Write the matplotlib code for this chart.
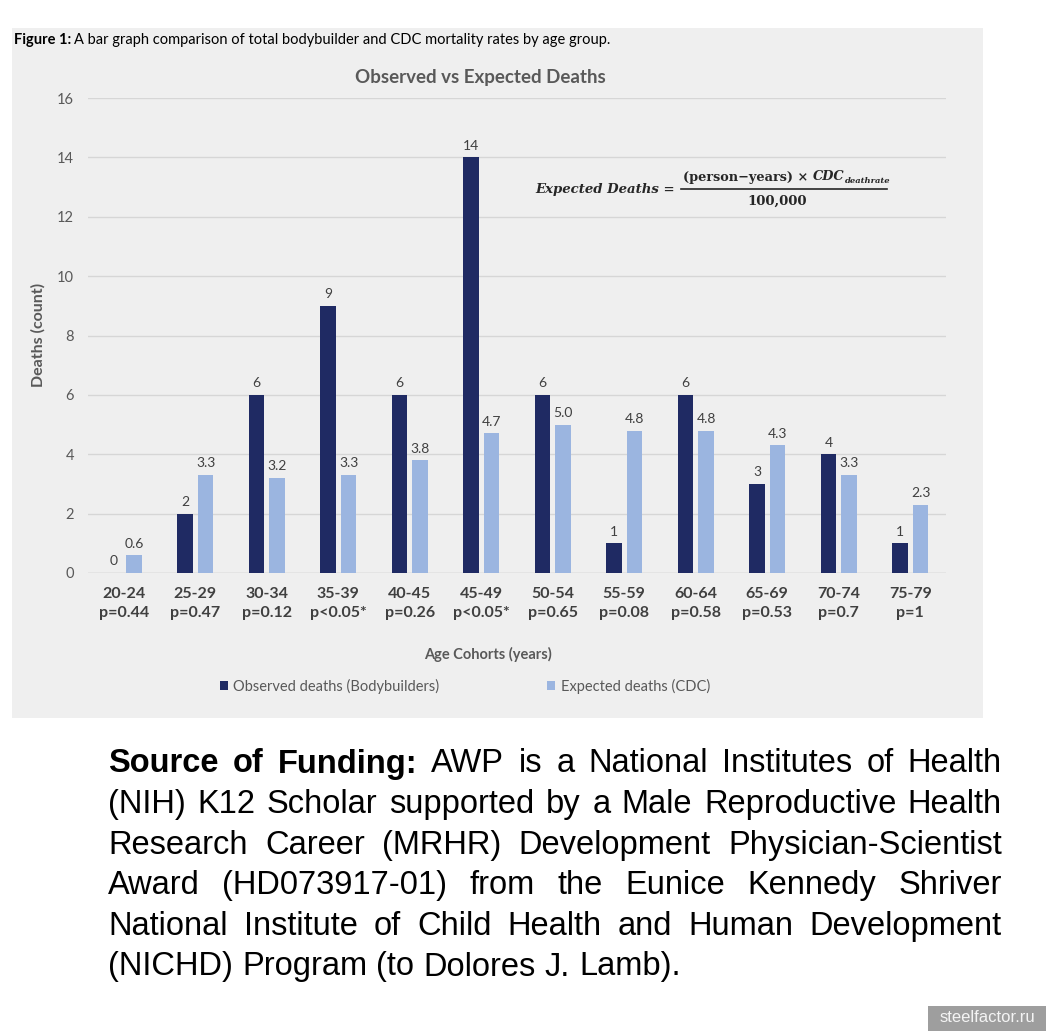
import matplotlib
matplotlib.use('Agg')
import matplotlib.pyplot as plt
from matplotlib.patches import Rectangle, Patch
from matplotlib.lines import Line2D

W, H = 1046, 1031

# data
cohorts = ['20-24', '25-29', '30-34', '35-39', '40-45', '45-49',
           '50-54', '55-59', '60-64', '65-69', '70-74', '75-79']
pvalues = ['p=0.44', 'p=0.47', 'p=0.12', 'p<0.05*', 'p=0.26', 'p<0.05*',
           'p=0.65', 'p=0.08', 'p=0.58', 'p=0.53', 'p=0.7', 'p=1']
observed = [0, 2, 6, 9, 6, 14, 6, 1, 6, 3, 4, 1]
expected = [0.6, 3.3, 3.2, 3.3, 3.8, 4.7, 5.0, 4.8, 4.8, 4.3, 3.3, 2.3]
yticks = [0, 2, 4, 6, 8, 10, 12, 14, 16]

funding = [
  [('Source', 1), ('of', 1), ('Funding:', 1), ('AWP', 0), ('is', 0), ('a', 0),
   ('National', 0), ('Institutes', 0), ('of', 0), ('Health', 0)],
  [(w, 0) for w in '(NIH) K12 Scholar supported by a Male Reproductive Health'.split()],
  [(w, 0) for w in 'Research Career (MRHR) Development Physician-Scientist'.split()],
  [(w, 0) for w in 'Award (HD073917-01) from the Eunice Kennedy Shriver'.split()],
  [(w, 0) for w in 'National Institute of Child Health and Human Development'.split()],
  [(w, 0) for w in '(NICHD) Program (to Dolores J. Lamb).'.split()],
]

DARK = '#1f2a63'
LIGHT = '#9bb5e0'
GREY = '#595959'
FONT = 'Lato'


def fx(x):
  return x / W


def fy(y):
  return 1 - y / H


fig = plt.figure(figsize=(W / 100, H / 100), dpi=100)
fig.patch.set_facecolor('white')

# grey panel behind the chart
fig.patches.append(Rectangle((fx(12), fy(718)), fx(983) - fx(12), fy(28) - fy(718),
                             transform=fig.transFigure, facecolor='#efefef',
                             edgecolor='none', zorder=-5))

ax = fig.add_axes([fx(88), fy(573), fx(946) - fx(88), fy(98) - fy(573)])
ax.set_facecolor('none')
ax.set_zorder(2)

x = list(range(len(cohorts)))
bw = 0.22
off = 0.145
b1 = ax.bar([i - off for i in x], observed, bw, color=DARK, zorder=3)
b2 = ax.bar([i + off for i in x], expected, bw, color=LIGHT, zorder=3)

for rect, v in zip(b1, observed):
  ax.annotate('%d' % v, (rect.get_x() + rect.get_width() / 2, v), xytext=(0, 4),
              textcoords='offset points', ha='center', va='bottom',
              fontsize=10, color='#404040', family=FONT)
for rect, v in zip(b2, expected):
  ax.annotate('%.1f' % v, (rect.get_x() + rect.get_width() / 2, v), xytext=(0, 4),
              textcoords='offset points', ha='center', va='bottom',
              fontsize=10, color='#404040', family=FONT)

ax.set_xlim(-0.5, len(cohorts) - 0.5)
ax.set_ylim(0, 16)
ax.set_yticks(yticks)
ax.set_yticklabels([str(t) for t in yticks], family=FONT, fontsize=10.5, color=GREY)
ax.set_xticks(x)
ax.set_xticklabels(['%s\n%s' % (c, p) for c, p in zip(cohorts, pvalues)],
                   family=FONT, fontsize=11.5, fontweight='bold', color='#404040',
                   linespacing=1.5)
ax.tick_params(axis='both', length=0)
ax.tick_params(axis='y', pad=10)
ax.tick_params(axis='x', pad=10)
ax.grid(axis='y', color='#d6d6d6', linewidth=1, zorder=0)
for s in ax.spines.values():
  s.set_visible(False)
ax.axhline(0, color='#cfcfcf', linewidth=1, zorder=2)

fig.text(fx(38), fy(335), 'Deaths (count)', rotation=90, ha='center', va='center',
         family=FONT, fontsize=11.5, fontweight='bold', color=GREY)
fig.text(fx(488), fy(654), 'Age Cohorts (years)', ha='center', va='center',
         family=FONT, fontsize=10.5, fontweight='bold', color=GREY)
fig.text(fx(480), fy(77), 'Observed vs Expected Deaths', ha='center', va='center',
         family=FONT, fontsize=13.5, fontweight='bold', color=GREY)

# figure caption
renderer = fig.canvas.get_renderer()
t = fig.text(fx(14), fy(40), 'Figure 1:', ha='left', va='center', family=FONT,
             fontsize=10.5, fontweight='bold', color='black')
wpx = t.get_window_extent(renderer).width
fig.text(fx(14 + wpx + 3), fy(40), 'A bar graph comparison of total bodybuilder and CDC mortality rates by age group.',
         ha='left', va='center', family=FONT, fontsize=10.5, color='black')

# legend
handles = [Patch(facecolor=DARK), Patch(facecolor=LIGHT)]
fig.legend(handles, ['Observed deaths (Bodybuilders)', 'Expected deaths (CDC)'],
           loc='center', bbox_to_anchor=(fx(465), fy(686)), ncol=2, frameon=False,
           prop={'family': FONT, 'size': 10.5}, labelcolor=GREY,
           handlelength=0.55, handleheight=0.55, handletextpad=0.4, columnspacing=7.4)

# equation
SERIF = 'DejaVu Serif'
EQC = '#262626'
fig.text(fx(675), fy(189), 'Expected Deaths =', ha='right', va='center',
         family=SERIF, fontsize=9.5, fontweight='bold', style='italic', color=EQC)
fig.add_artist(Line2D([fx(681), fx(887)], [fy(189), fy(189)], color=EQC, linewidth=1.2,
                      transform=fig.transFigure))
n1 = fig.text(fx(683), fy(177), '(person\u2212years) \u00d7 ', ha='left', va='center',
              family=SERIF, fontsize=9.3, fontweight='bold', color=EQC)
w1 = n1.get_window_extent(renderer).width
n2 = fig.text(fx(683 + w1), fy(177), 'CDC', ha='left', va='center',
              family=SERIF, fontsize=9.3, fontweight='bold', style='italic', color=EQC)
w2 = n2.get_window_extent(renderer).width
fig.text(fx(683 + w1 + w2 + 1), fy(181), 'deathrate', ha='left', va='center',
         family=SERIF, fontsize=6.0, fontweight='bold', style='italic', color=EQC)
fig.text(fx(777), fy(201), '100,000', ha='center', va='center',
         family=SERIF, fontsize=9.5, fontweight='bold', color=EQC)

# funding paragraph, justified
left, right = 108, 1002
FS = 23.5
sp = fig.text(0, 0, 'a a', family='Liberation Sans', fontsize=FS)
ref = fig.text(0, 0, 'aa', family='Liberation Sans', fontsize=FS)
space_w = sp.get_window_extent(renderer).width - ref.get_window_extent(renderer).width
sp.remove()
ref.remove()
for li, words in enumerate(funding):
  ypos = fy(764 + li * 40.6)
  arts = []
  for w, b in words:
    a = fig.text(0, ypos, w, ha='left', va='center', family='Liberation Sans',
                 fontsize=FS, fontweight='bold' if b else 'normal', color='black')
    arts.append(a)
  widths = [a.get_window_extent(renderer).width for a in arts]
  if li == len(funding) - 1:
    gw = space_w
  else:
    gw = (right - left - sum(widths)) / (len(words) - 1)
  pos = left
  for a, wd in zip(arts, widths):
    a.set_x(fx(pos))
    pos += wd + gw

# watermark
fig.patches.append(Rectangle((fx(928), 0), 1 - fx(928), fy(1006), transform=fig.transFigure,
                             facecolor='#9e9e9e', edgecolor='none'))
fig.text(fx(987), fy(1018), 'steelfactor.ru', ha='center', va='center',
         family='Liberation Sans', fontsize=12, color='#f4f4f4')

fig.savefig('out.png', dpi=100)
